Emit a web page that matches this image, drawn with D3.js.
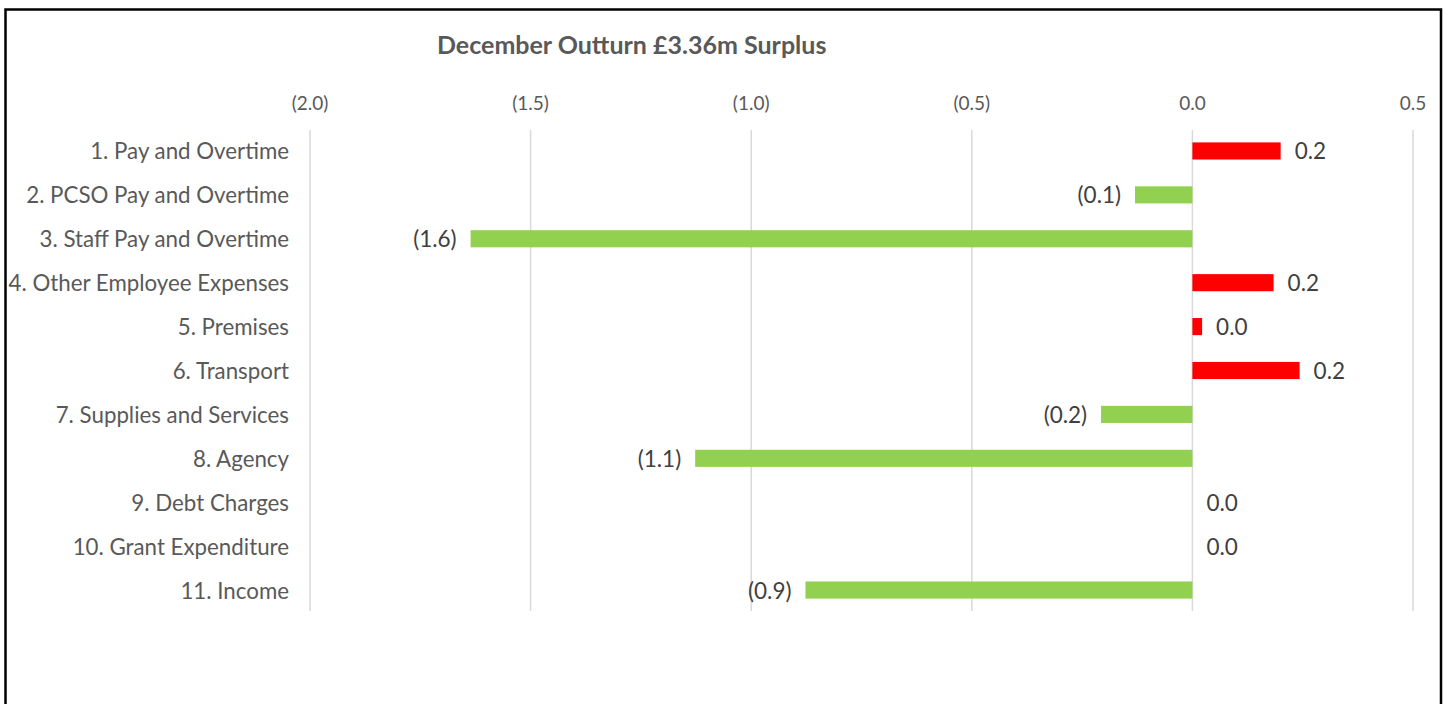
<!DOCTYPE html>
<html><head><meta charset="utf-8">
<script src="https://cdn.jsdelivr.net/npm/d3@7"></script>
<style>
html,body{margin:0;padding:0;background:#fff;}
svg{display:block;}
</style></head>
<body>
<svg id="c" width="1449" height="704"></svg>
<script>
const categories = ["1. Pay and Overtime","2. PCSO Pay and Overtime","3. Staff Pay and Overtime","4. Other Employee Expenses","5. Premises","6. Transport","7. Supplies and Services","8. Agency","9. Debt Charges","10. Grant Expenditure","11. Income"];
const values = [0.20, -0.13, -1.636, 0.184, 0.022, 0.243, -0.207, -1.127, 0.0, 0.0, -0.877];
const tickValues = [-2.0, -1.5, -1.0, -0.5, 0.0, 0.5];
const title = "December Outturn £3.36m Surplus";

const svg = d3.select("#c");
const font = "Lato, 'Open Sans', sans-serif";

// frame
svg.append("path").attr("d","M5.5,704 L5.5,9.5 L1441,9.5 L1441,704")
  .attr("fill","none").attr("stroke","#000").attr("stroke-width",2.5);

const x = d3.scaleLinear().domain([-2.0, 0.5]).range([310, 1413]);
const y = d3.scaleBand().domain(categories).range([129, 612]).paddingInner(0.61).paddingOuter(0.305);

// gridlines
svg.append("g").selectAll("line").data(tickValues).join("line")
  .attr("x1", d=>x(d)).attr("x2", d=>x(d)).attr("y1",130).attr("y2",611)
  .attr("stroke","#D9D9D9").attr("stroke-width",1.5);

// tick labels
const fmt = v => v < 0 ? "(" + Math.abs(v).toFixed(1) + ")" : v.toFixed(1);
svg.append("g").selectAll("text").data(tickValues).join("text")
  .attr("x", d=>x(d)).attr("y",102).attr("text-anchor","middle").attr("dominant-baseline","central")
  .attr("font-family",font).attr("font-size",19).attr("fill","#595959").text(fmt);

// title
svg.append("text").attr("x",437).attr("y",44).attr("dominant-baseline","central")
  .attr("font-family",font).attr("font-size",25).attr("font-weight","bold").attr("fill","#595959").text(title);

// category labels
svg.append("g").selectAll("text").data(categories).join("text")
  .attr("x",289).attr("y", d=>y(d)+y.bandwidth()/2).attr("text-anchor","end").attr("dominant-baseline","central")
  .attr("font-family",font).attr("font-size",22.3).attr("fill","#595959").text(d=>d);

const rows = categories.map((c,i)=>({c, v: values[i]}));

// bars
svg.append("g").selectAll("rect").data(rows.filter(d=>d.v!==0)).join("rect")
  .attr("x", d=>Math.min(x(0),x(d.v))).attr("width", d=>Math.abs(x(d.v)-x(0)))
  .attr("y", d=>y(d.c)).attr("height", y.bandwidth())
  .attr("fill", d=> d.v>0 ? "#FF0000" : "#92D050");

// data labels
svg.append("g").selectAll("text").data(rows).join("text")
  .attr("x", d=> d.v<0 ? x(d.v)-14 : x(d.v)+14)
  .attr("y", d=>y(d.c)+y.bandwidth()/2)
  .attr("text-anchor", d=> d.v<0 ? "end" : "start").attr("dominant-baseline","central")
  .attr("font-family",font).attr("font-size",22.5).attr("fill","#404040").text(d=>fmt(d.v));
</script>
</body></html>
